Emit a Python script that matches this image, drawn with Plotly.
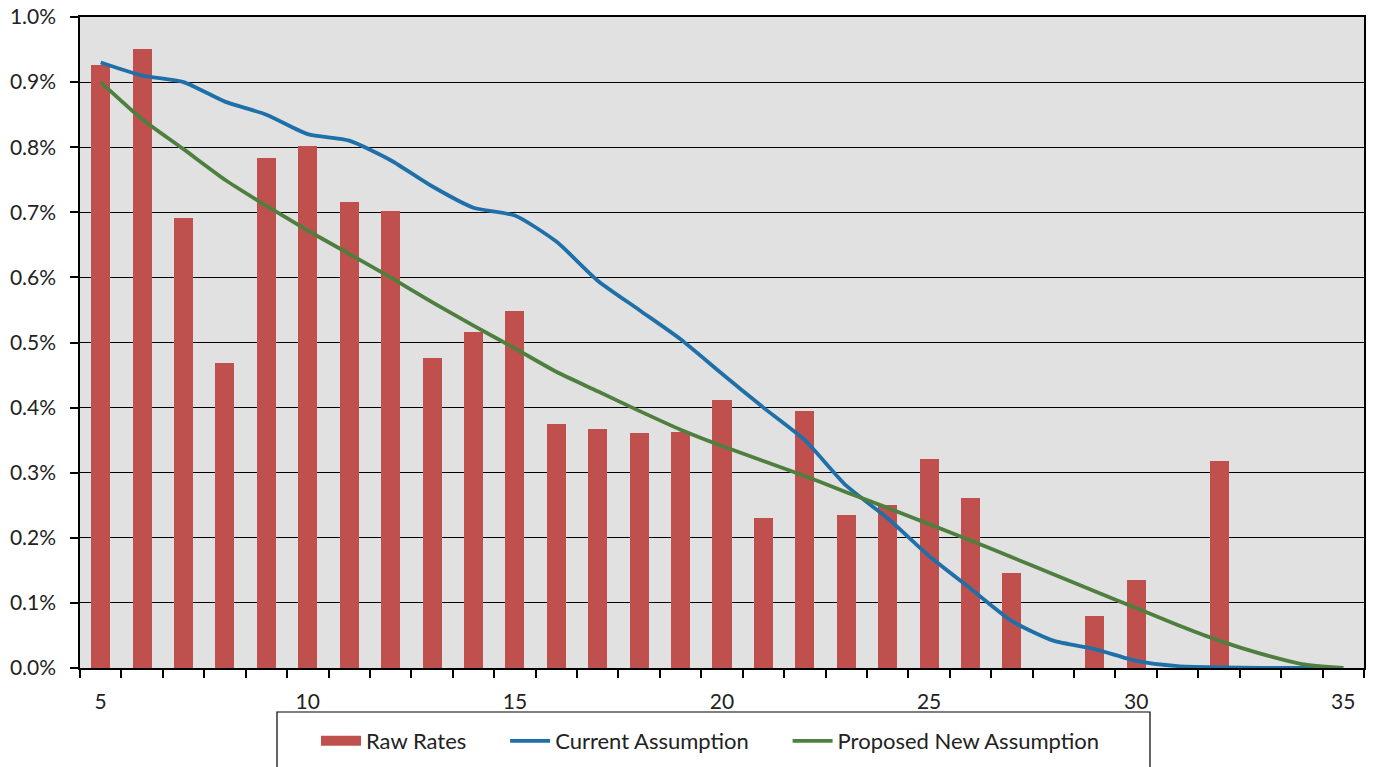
import plotly.graph_objects as go

durations = list(range(5, 36))

raw_x = [5, 6, 7, 8, 9, 10, 11, 12, 13, 14, 15, 16, 17, 18, 19, 20, 21, 22, 23, 24, 25, 26, 27, 29, 30, 32]
raw_rates = [0.926, 0.951, 0.691, 0.468, 0.783, 0.802, 0.716, 0.702, 0.476, 0.516, 0.548,
             0.375, 0.367, 0.361, 0.363, 0.412, 0.230, 0.395, 0.235, 0.250, 0.321, 0.261,
             0.146, 0.080, 0.135, 0.318]

current = [0.930, 0.910, 0.900, 0.870, 0.850, 0.820, 0.810, 0.780, 0.740, 0.707, 0.695,
           0.655, 0.595, 0.550, 0.505, 0.452, 0.400, 0.350, 0.280, 0.230, 0.172, 0.122,
           0.072, 0.042, 0.029, 0.011, 0.003, 0.001, 0.0, 0.0, 0.0]

proposed = [0.900, 0.843, 0.797, 0.750, 0.710, 0.672, 0.636, 0.600, 0.562, 0.526, 0.491,
            0.455, 0.425, 0.395, 0.366, 0.341, 0.318, 0.295, 0.270, 0.246, 0.221, 0.196,
            0.170, 0.144, 0.118, 0.092, 0.066, 0.042, 0.022, 0.006, 0.0]

x_labels = [5, 10, 15, 20, 25, 30, 35]
y_ticks = [i / 10 for i in range(11)]

font = "Lato, 'Open Sans', sans-serif"
bar_color = "#C0504D"
PAD = "\u00a0" * 6

fig = go.Figure()
fig.add_trace(go.Bar(x=raw_x, y=raw_rates, name="Raw Rates", width=0.46, showlegend=False,
                     marker=dict(color=bar_color, line=dict(width=0))))
# legend entry drawn as a wide swatch
fig.add_trace(go.Scatter(x=[None], y=[None], name="Raw Rates" + PAD, mode="lines",
                         line=dict(color=bar_color, width=15)))
fig.add_trace(go.Scatter(x=durations, y=current, name="Current Assumption" + PAD, mode="lines",
                         line=dict(color="#1F6FA8", width=3.8, shape="spline", smoothing=0.6)))
fig.add_trace(go.Scatter(x=durations, y=proposed, name="Proposed New Assumption", mode="lines",
                         line=dict(color="#4F7F3F", width=3.8, shape="spline", smoothing=0.6)))

# legend frame
fig.add_shape(type="rect", xref="paper", yref="paper",
              x0=(277 - 80) / 1284, x1=(1150 - 80) / 1284,
              y0=(668 - 712) / 651, y1=(668 - 790) / 651,
              line=dict(color="black", width=1.2), fillcolor="white", layer="above")

fig.update_layout(
    width=1374, height=767,
    margin=dict(l=80, r=10, t=17, b=99, autoexpand=False),
    paper_bgcolor="white", plot_bgcolor="#E1E1E1",
    font=dict(family=font, size=21, color="#222222"),
    showlegend=True,
    legend=dict(orientation="h", xref="paper", yref="paper",
                x=(316 - 80) / 1284, xanchor="left", y=(668 - 720) / 651, yanchor="top",
                borderwidth=0, bgcolor="rgba(0,0,0,0)",
                font=dict(size=22, color="#222222"), itemwidth=40, tracegroupgap=0),
    bargap=0,
)
fig.update_xaxes(range=[4.5, 35.5], tickvals=x_labels, ticktext=[str(v) for v in x_labels],
                 ticks="", showgrid=False, zeroline=False, automargin=False,
                 showline=True, linecolor="black", linewidth=1.5, mirror=True,
                 minor=dict(ticks="outside", tick0=4.5, dtick=1, ticklen=8, tickcolor="black",
                            tickwidth=1.5, showgrid=False),
                 ticklabelstandoff=14, ticklabeloverflow="allow",
                 tickfont=dict(size=21))
fig.update_yaxes(range=[0, 1.0], tickvals=y_ticks, ticktext=[f"{v:.1f}%" for v in y_ticks],
                 ticks="outside", ticklen=8, tickcolor="black", tickwidth=1.5, automargin=False,
                 showgrid=True, gridcolor="black", gridwidth=1.2, zeroline=False,
                 showline=True, linecolor="black", linewidth=1.5, mirror=True,
                 ticklabelstandoff=10, ticklabeloverflow="allow",
                 tickfont=dict(size=21))

fig.write_html("out.html", config={"displayModeBar": False},
               post_script="document.body.style.margin='0';document.body.style.overflow='hidden';")
